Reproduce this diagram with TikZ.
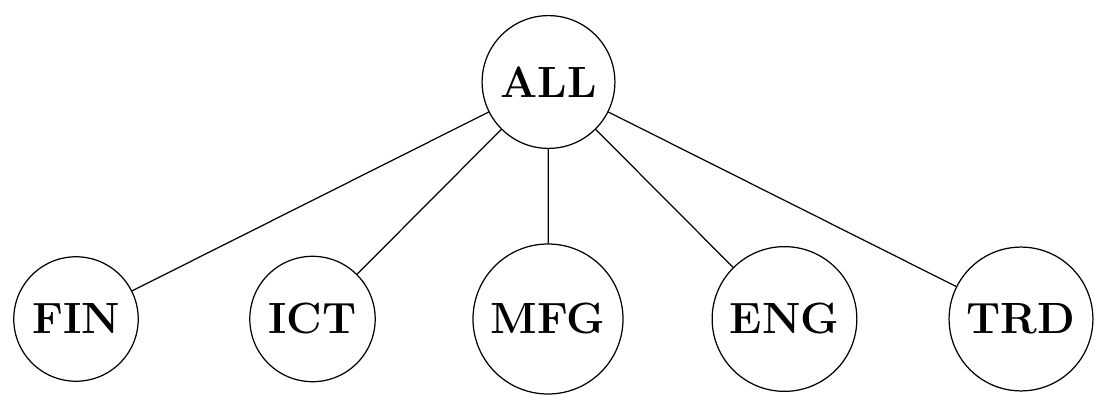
\documentclass[tikz,border=0pt]{standalone}
\usepackage{tikz}
\begin{document}
\begin{tikzpicture}[sector/.style={draw,circle,line width=0.7pt,inner sep=7pt,font=\Huge\bfseries}]
      \useasboundingbox (0,0) rectangle (22.1,8.34);
      \node[sector] (all) at (10.97,6.70) {ALL};
      \node[sector] (fin) at (1.52,1.96) {FIN};
      \node[sector] (ict) at (6.25,1.96) {ICT};
      \node[sector] (mfg) at (10.96,1.96) {MFG};
      \node[sector] (eng) at (15.69,1.96) {ENG};
      \node[sector] (trd) at (20.42,1.96) {TRD};
      \draw[line width=0.7pt] (all) -- (fin);
      \draw[line width=0.7pt] (all) -- (ict);
      \draw[line width=0.7pt] (all) -- (mfg);
      \draw[line width=0.7pt] (all) -- (eng);
      \draw[line width=0.7pt] (all) -- (trd);
\end{tikzpicture}
\end{document}
